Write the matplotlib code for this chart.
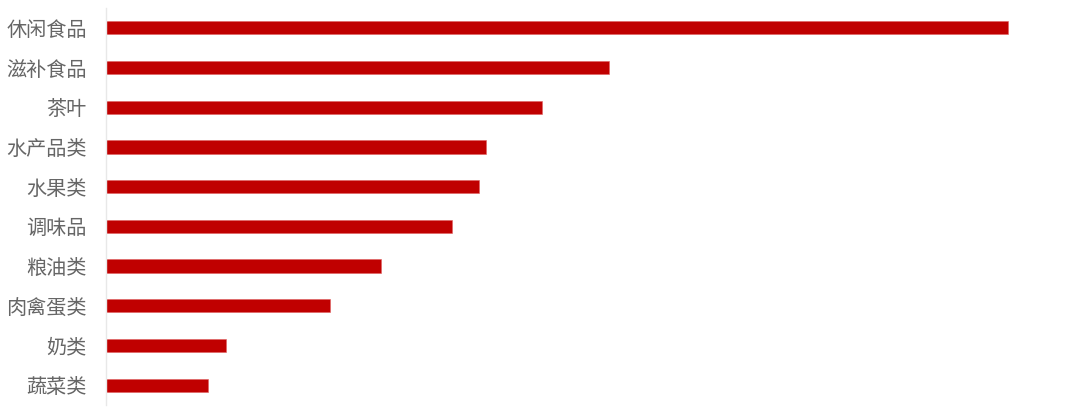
import matplotlib
matplotlib.use("Agg")
import matplotlib.pyplot as plt

plt.rcParams['font.family'] = ['Noto Sans CJK SC', 'DejaVu Sans']

categories = ["休闲食品", "滋补食品", "茶叶", "水产品类", "水果类",
              "调味品", "粮油类", "肉禽蛋类", "奶类", "蔬菜类"]
values = [902, 503, 436, 380, 373, 346, 275, 224, 120, 102]

W, H = 1080, 413
fig = plt.figure(figsize=(W / 100, H / 100), dpi=100)
ax = fig.add_axes([106 / W, 1 - 405 / H, 950 / W, 397 / H])

pos = list(range(len(categories)))
ax.barh(pos, values, height=0.33, color="#C00000", edgecolor="#E06060", linewidth=0.4)

ax.set_xlim(0, 950)
ax.set_ylim(len(categories) - 0.5, -0.5)
ax.set_yticks(pos)
ax.set_yticklabels(categories, fontsize=14.5, color="#666666", fontweight="light")
ax.tick_params(axis="y", length=0, pad=14)
ax.set_xticks([])

for side in ["top", "right", "bottom"]:
    ax.spines[side].set_visible(False)
ax.spines["left"].set_color("#E8E8E8")
ax.spines["left"].set_linewidth(1)

fig.savefig("out.png", dpi=100)
